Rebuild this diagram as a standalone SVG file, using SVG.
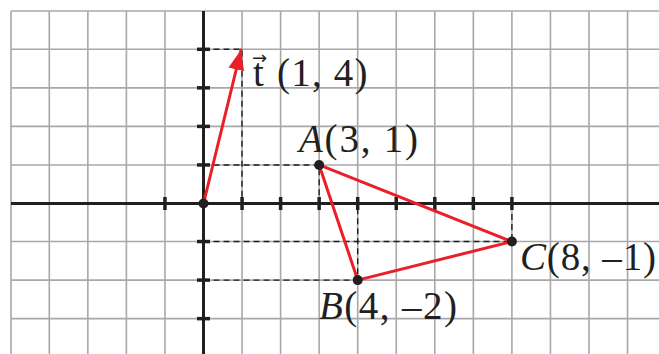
<svg xmlns="http://www.w3.org/2000/svg" width="659" height="354" viewBox="0 0 659 354">
  <defs>
    <style>
      .grid line { stroke: #a8a8aa; stroke-width: 1.6; }
      .axis { stroke: #231f20; stroke-width: 3; }
      .tick { stroke: #231f20; stroke-width: 3.5; }
      .dash { stroke: #231f20; stroke-width: 1.4; stroke-dasharray: 6 4; fill: none; }
      .red { stroke: #ea1f27; stroke-width: 3; fill: none; stroke-linecap: round; }
      .dot { fill: #231f20; }
      .lbl { font-family: "Liberation Serif", "DejaVu Serif", "Times New Roman", serif; font-size: 39px; fill: #231f20; }
    </style>
    <marker id="arr" markerUnits="userSpaceOnUse" markerWidth="22" markerHeight="18" refX="20" refY="8" orient="auto">
      <path d="M0,0 L20,8 L0,16 Z" fill="#ea1f27"/>
    </marker>
  </defs>
  <rect width="659" height="354" fill="#ffffff"/>
  <g id="grid" class="grid">
    <line x1="11" y1="11" x2="11" y2="354"/>
    <line x1="49.3" y1="11" x2="49.3" y2="354"/>
    <line x1="87.85" y1="11" x2="87.85" y2="354"/>
    <line x1="126.4" y1="11" x2="126.4" y2="354"/>
    <line x1="164.95" y1="11" x2="164.95" y2="354"/>
    <line x1="242.05" y1="11" x2="242.05" y2="354"/>
    <line x1="280.6" y1="11" x2="280.6" y2="354"/>
    <line x1="319.15" y1="11" x2="319.15" y2="354"/>
    <line x1="357.7" y1="11" x2="357.7" y2="354"/>
    <line x1="396.25" y1="11" x2="396.25" y2="354"/>
    <line x1="434.8" y1="11" x2="434.8" y2="354"/>
    <line x1="473.35" y1="11" x2="473.35" y2="354"/>
    <line x1="511.9" y1="11" x2="511.9" y2="354"/>
    <line x1="550.45" y1="11" x2="550.45" y2="354"/>
    <line x1="589" y1="11" x2="589" y2="354"/>
    <line x1="627.55" y1="11" x2="627.55" y2="354"/>
    <line x1="11" y1="11" x2="659" y2="11"/>
    <line x1="11" y1="49.3" x2="659" y2="49.3"/>
    <line x1="11" y1="87.85" x2="659" y2="87.85"/>
    <line x1="11" y1="126.4" x2="659" y2="126.4"/>
    <line x1="11" y1="164.95" x2="659" y2="164.95"/>
    <line x1="11" y1="241.55" x2="659" y2="241.55"/>
    <line x1="11" y1="280.1" x2="659" y2="280.1"/>
    <line x1="11" y1="318.65" x2="659" y2="318.65"/>
  </g>
  <g id="axes">
    <line class="axis" x1="11" y1="203.5" x2="659" y2="203.5"/>
    <line class="axis" x1="203.5" y1="11" x2="203.5" y2="354"/>
    <g class="tick">
      <line x1="197" y1="49.3" x2="210" y2="49.3"/>
      <line x1="197" y1="87.85" x2="210" y2="87.85"/>
      <line x1="197" y1="126.4" x2="210" y2="126.4"/>
      <line x1="197" y1="164.95" x2="210" y2="164.95"/>
      <line x1="197" y1="241.55" x2="210" y2="241.55"/>
      <line x1="197" y1="280.1" x2="210" y2="280.1"/>
      <line x1="197" y1="318.65" x2="210" y2="318.65"/>
      <line x1="164.95" y1="197" x2="164.95" y2="210"/>
      <line x1="242.05" y1="197" x2="242.05" y2="210"/>
      <line x1="280.6" y1="197" x2="280.6" y2="210"/>
      <line x1="319.15" y1="197" x2="319.15" y2="210"/>
      <line x1="357.7" y1="197" x2="357.7" y2="210"/>
      <line x1="396.25" y1="197" x2="396.25" y2="210"/>
      <line x1="434.8" y1="197" x2="434.8" y2="210"/>
      <line x1="473.35" y1="197" x2="473.35" y2="210"/>
      <line x1="511.9" y1="197" x2="511.9" y2="210"/>
    </g>
  </g>
  <g id="connectors">
    <path class="dash" d="M203.5,49.3 H242 V203.5"/>
    <path class="dash" d="M203.5,164.95 H319.15 V203.5"/>
    <path class="dash" d="M203.5,241.55 H511.9 V203.5"/>
    <path class="dash" d="M203.5,280.1 H357.7 V203.5"/>
    <line id="edge-AB" class="red" x1="319.15" y1="164.95" x2="357.7" y2="280.1"/>
    <line id="edge-BC" class="red" x1="357.7" y1="280.1" x2="511.9" y2="241.55"/>
    <line id="edge-CA" class="red" x1="511.9" y1="241.55" x2="319.15" y2="164.95"/>
    <line id="vector-t" class="red" x1="203.5" y1="203.5" x2="241" y2="50" marker-end="url(#arr)"/>
  </g>
  <g id="node-O">
    <circle class="dot" cx="203.5" cy="203.5" r="5"/>
  </g>
  <g id="node-t">
    <text class="lbl" x="253" y="86">t<tspan x="252" y="64" font-family="DejaVu Sans, sans-serif" font-size="18">→</tspan><tspan x="277" y="86" letter-spacing="1.2">(1, 4)</tspan></text>
  </g>
  <g id="node-A">
    <circle class="dot" cx="319.15" cy="164.95" r="5"/>
    <text class="lbl" x="299" y="152" textLength="119" lengthAdjust="spacing"><tspan font-style="italic">A</tspan>(3, 1)</text>
  </g>
  <g id="node-B">
    <circle class="dot" cx="357.7" cy="280.1" r="5"/>
    <text class="lbl" x="319" y="319" textLength="138" lengthAdjust="spacing"><tspan font-style="italic">B</tspan>(4, –2)</text>
  </g>
  <g id="node-C">
    <circle class="dot" cx="511.9" cy="241.55" r="5"/>
    <text class="lbl" x="520" y="270" textLength="136" lengthAdjust="spacing"><tspan font-style="italic">C</tspan>(8, –1)</text>
  </g>
</svg>
